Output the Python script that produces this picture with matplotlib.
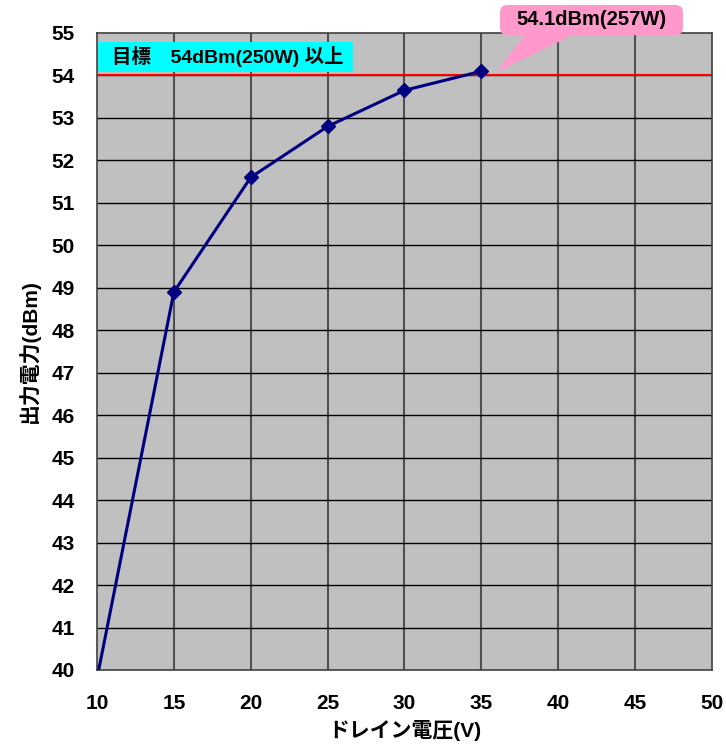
import matplotlib
matplotlib.use("Agg")
import matplotlib.pyplot as plt
from matplotlib.patches import FancyBboxPatch, Polygon, Rectangle

plt.rcParams['font.family'] = ['Liberation Sans', 'Noto Sans CJK JP', 'DejaVu Sans']
plt.rcParams['font.weight'] = 'bold'

voltage = [10, 15, 20, 25, 30, 35]
power_dbm = [39.8, 48.9, 51.6, 52.8, 53.65, 54.1]
target_dbm = 54
x_ticks = [10, 15, 20, 25, 30, 35, 40, 45, 50]
y_ticks = list(range(40, 56))
target_label = "目標　54dBm(250W) 以上"
peak_label = "54.1dBm(257W)"

fig = plt.figure(figsize=(7.26, 7.48), dpi=100)
ax = fig.add_axes([97/726, 1-670/748, (712-97)/726, (670-33)/748])
ax.set_facecolor('#c0c0c0')
ax.set_xlim(10, 50)
ax.set_ylim(40, 55)
ax.set_xticks(x_ticks)
ax.set_yticks(y_ticks)
ax.tick_params(axis='both', length=0, labelsize=15)
ax.tick_params(axis='x', pad=17)
ax.tick_params(axis='y', pad=16)
for lbl in ax.get_xticklabels() + ax.get_yticklabels():
    lbl.set_fontweight('bold')

for x in x_ticks[1:-1]:
    ax.axvline(x, color='#505050', lw=1.5, zorder=1)
for y in y_ticks[1:-1]:
    ax.axhline(y, color='black', lw=1, zorder=1)
for s in ax.spines.values():
    s.set_color('#404040')
    s.set_linewidth(1.2)

ax.axhline(target_dbm, color='#ff0000', lw=1.5, zorder=2)
ax.plot(voltage, power_dbm, color='#000080', lw=2.2, marker='D', ms=7, zorder=3)

ax.set_xlabel("ドレイン電圧(V)", fontsize=15, fontweight='bold', labelpad=5)
ax.set_ylabel("出力電力(dBm)", fontsize=15, fontweight='bold', labelpad=8)

# cyan target label
ax.add_patch(Rectangle((10.07, 54.08), 16.58, 0.71, fc='#00ffff', ec='none', zorder=4))
ax.text(10.98, 54.45, target_label, fontsize=14, fontweight='bold', va='center', ha='left',
        zorder=5)

# pink callout
tri = Polygon([[36.0, 54.08], [37.9, 55.0], [41.2, 55.0]], closed=True,
              fc='#ff99cc', ec='none', clip_on=False, zorder=4)
ax.add_patch(tri)
box = FancyBboxPatch((36.21, 54.95), 11.9, 0.71, boxstyle='round,pad=0,rounding_size=0.5',
                     fc='#ff99cc', ec='none', clip_on=False, zorder=4,
                     mutation_aspect=0.35)
ax.add_patch(box)
ax.text(42.15, 55.31, peak_label, fontsize=14.5, fontweight='bold', ha='center', va='center',
        zorder=5, clip_on=False)

fig.savefig("out.png", dpi=100)
